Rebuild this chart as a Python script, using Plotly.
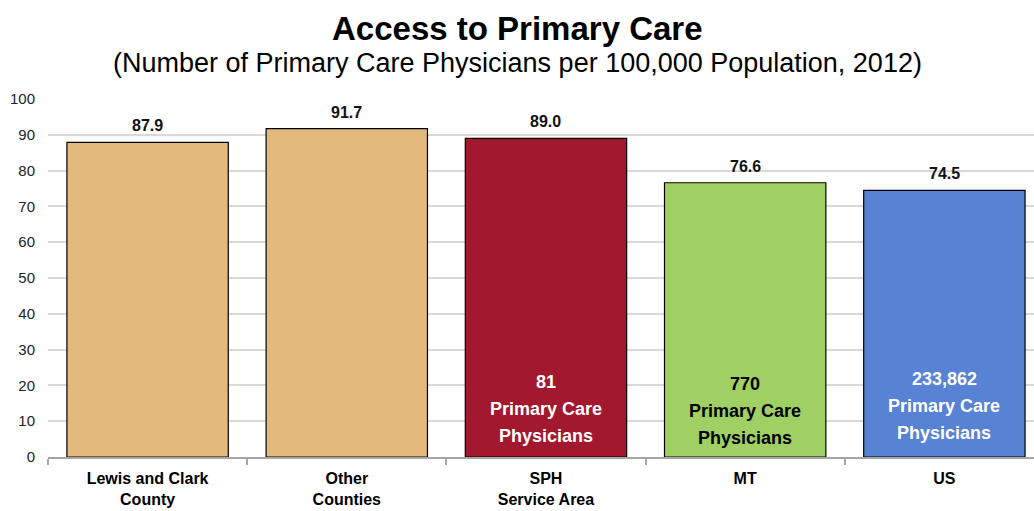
import plotly.graph_objects as go

categories = ["Lewis and Clark<br>County", "Other<br>Counties", "SPH<br>Service Area", "MT", "US"]
rates = [87.9, 91.7, 89.0, 76.6, 74.5]
rate_labels = ["87.9", "91.7", "89.0", "76.6", "74.5"]
colors = ["#E3BA7C", "#E3BA7C", "#A2182F", "#A0D064", "#5882D3"]
inside_counts = ["", "", "81", "770", "233,862"]
inside_colors = ["white", "white", "white", "black", "white"]
inside_y = [0, 0, 13.4, 12.85, 14.25]

FONT = "Liberation Sans, Arial, sans-serif"
xpos = list(range(len(categories)))

fig = go.Figure()
fig.add_trace(go.Bar(
    x=xpos, y=rates, width=0.81,
    marker=dict(color=colors, line=dict(color="black", width=1.2)),
    hoverinfo="skip",
))

annotations = []
for i, (v, lab) in enumerate(zip(rates, rate_labels)):
    annotations.append(dict(x=i, y=v, xref="x", yref="y", text="<b>%s</b>" % lab,
                            showarrow=False, yanchor="bottom", yshift=6,
                            font=dict(family=FONT, size=16, color="#111111")))
    if inside_counts[i]:
        lines = [inside_counts[i], "Primary Care", "Physicians"]
        for k, line in enumerate(lines):
            annotations.append(dict(x=i, y=inside_y[i], xref="x", yref="y",
                                    text="<b>%s</b>" % line, yshift=27 * (1 - k),
                                    showarrow=False, yanchor="middle",
                                    font=dict(family=FONT, size=18, color=inside_colors[i])))

annotations.append(dict(x=0.476, y=1.254, xref="paper", yref="paper", yanchor="top",
                        text="<b>Access to Primary Care</b>", showarrow=False,
                        font=dict(family=FONT, size=33, color="black")))
annotations.append(dict(x=0.476, y=1.147, xref="paper", yref="paper", yanchor="top",
                        text="(Number of Primary Care Physicians per 100,000 Population, 2012)",
                        showarrow=False, font=dict(family=FONT, size=27, color="black")))

fig.update_layout(
    width=1034, height=511,
    margin=dict(l=48, r=0, t=99, b=54, autoexpand=False),
    paper_bgcolor="white", plot_bgcolor="white",
    showlegend=False,
    bargap=0.19,
    annotations=annotations,
    font=dict(family=FONT, color="#111111"),
    xaxis=dict(
        range=[-0.5, 4.45], automargin=False,
        tickmode="array", tickvals=xpos, ticktext=["<b>%s</b>" % c for c in categories],
        ticks="", showgrid=False, zeroline=False,
        showline=True, linecolor="#A6A6A6", linewidth=1.5,
        ticklabelstandoff=6,
        tickfont=dict(family=FONT, size=16, color="black"),
        minor=dict(tickmode="linear", tick0=0.5, dtick=1, ticks="outside",
                   ticklen=6, tickcolor="#A6A6A6", tickwidth=1.5, showgrid=False),
    ),
    yaxis=dict(
        range=[0, 100], tickmode="linear", tick0=0, dtick=10, automargin=False,
        showgrid=True, gridcolor="#D9D9D9", gridwidth=1.5,
        zeroline=False, showline=False, ticks="",
        ticklabelstandoff=12,
        tickfont=dict(family=FONT, size=15, color="#222222"),
    ),
)

fig.write_html("out.html", config={"displayModeBar": False},
               post_script="document.body.style.margin='0';")
